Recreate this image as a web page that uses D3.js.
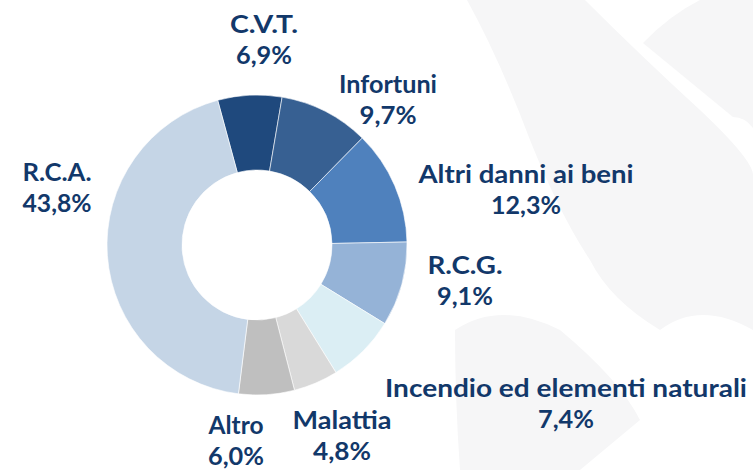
<!DOCTYPE html>
<html><head><meta charset="utf-8">
<script src="https://cdn.jsdelivr.net/npm/d3@7"></script>
<style>
html,body{margin:0;padding:0;background:#fff;}
svg{display:block;}
text{font-family:Lato,"Open Sans",sans-serif;font-weight:700;fill:#12386a;}
</style></head>
<body>
<svg id="chart" width="753" height="470"></svg>
<script>
// ---- data ----
const categories = ["C.V.T.", "Infortuni", "Altri danni ai beni", "R.C.G.", "Incendio ed elementi naturali", "Malattia", "Altro", "R.C.A."];
const values = [6.9, 9.7, 12.3, 9.1, 7.4, 4.8, 6.0, 43.8];
const valueLabels = ["6,9%", "9,7%", "12,3%", "9,1%", "7,4%", "4,8%", "6,0%", "43,8%"];
const colors = ["#1f497d", "#376092", "#4f81bd", "#95b3d7", "#dbeef4", "#d9d9d9", "#bfbfbf", "#c5d5e6"];

// ---- layout (label placement, px) ----
const labelLayout = {
  "C.V.T.": {x: 264, y: 33, w1: 68, w2: 56},
  "Infortuni": {x: 388, y: 93, w1: 98, w2: 57},
  "Altri danni ai beni": {x: 526, y: 183, w1: 215, w2: 70},
  "R.C.G.": {x: 465, y: 274, w1: 75, w2: 56},
  "Incendio ed elementi naturali": {x: 566, y: 397, w1: 362, w2: 56},
  "Malattia": {x: 342, y: 429, w1: 99, w2: 58},
  "Altro": {x: 236, y: 434, w1: 55, w2: 56},
  "R.C.A.": {x: 57, y: 181, w1: 69, w2: 69}
};
const lineGap = 31;

const svg = d3.select("#chart");

// faint background watermark
const wm = svg.append("g").attr("fill", "#f6f6f7");
wm.append("path").attr("d", "M467,0 L585,0 Q640,55 700,110 Q753,160 753,175 L753,330 Q700,300 660,330 Q610,300 590,260 Q560,215 530,140 Q500,60 467,0 Z");
wm.append("path").attr("d", "M700,0 L753,0 L753,128 Q745,117 733,117 L643,43 Q670,15 700,0 Z");
wm.append("path").attr("d", "M455,330 Q500,300 560,330 Q620,380 640,420 L580,470 L460,470 Q455,400 455,330 Z");

const cx = 257, cy = 245, rOuter = 150, rInner = 75;
const start = -15.2 * Math.PI / 180;

const pie = d3.pie().sort(null).value(d => d.v)
  .startAngle(start).endAngle(start + 2 * Math.PI);
const arc = d3.arc().innerRadius(rInner).outerRadius(rOuter);

const data = categories.map((c, i) => ({c, v: values[i], col: colors[i], lab: valueLabels[i]}));

const g = svg.append("g").attr("transform", `translate(${cx},${cy})`);
g.selectAll("path").data(pie(data)).join("path")
  .attr("d", arc)
  .attr("fill", d => d.data.col)
  .attr("stroke", "#ffffff")
  .attr("stroke-width", 0.6);

const labels = svg.append("g");
data.forEach(d => {
  const L = labelLayout[d.c];
  const t = labels.append("text").attr("text-anchor", "middle").attr("font-size", 24);
  t.append("tspan").attr("x", L.x).attr("y", L.y).text(d.c);
  const t2 = labels.append("text").attr("text-anchor", "middle").attr("font-size", 24);
  t2.append("tspan").attr("x", L.x).attr("y", L.y + lineGap).text(d.lab);
  [[t, L.w1], [t2, L.w2]].forEach(([el, w]) => {
    el.attr("textLength", w).attr("lengthAdjust", "spacingAndGlyphs");
  });
});
</script>
</body></html>
